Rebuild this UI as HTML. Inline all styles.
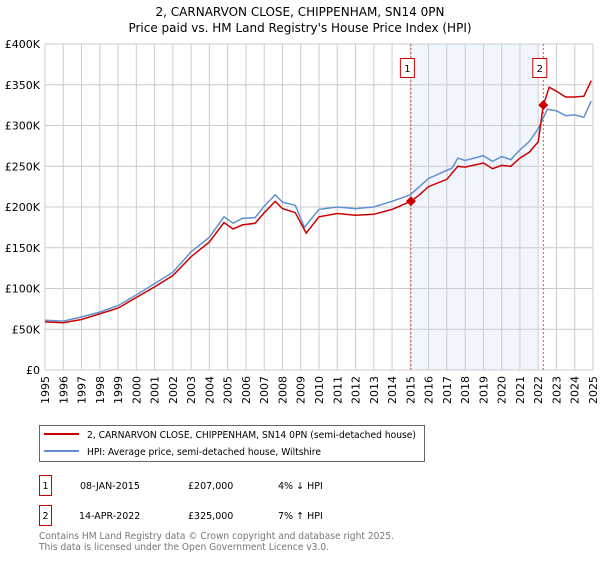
<!DOCTYPE html>
<html><head><meta charset="utf-8"><style>
body{margin:0;background:#fff;font-family:"DejaVu Sans","Liberation Sans",sans-serif;}
svg text{font-family:"DejaVu Sans","Liberation Sans",sans-serif;}
</style></head><body>
<svg id="c" width="600" height="560" xmlns="http://www.w3.org/2000/svg">
<text x="300" y="16" text-anchor="middle" font-size="12" fill="#000">2, CARNARVON CLOSE, CHIPPENHAM, SN14 0PN</text>
<text x="300" y="32" text-anchor="middle" font-size="12" fill="#000">Price paid vs. HM Land Registry's House Price Index (HPI)</text>
<g id="grid"></g><g id="marks"></g><g id="axes"></g>
<g>
<rect x="39.5" y="425.5" width="385" height="36" fill="#fff" stroke="#666"/>
<line x1="44" y1="434" x2="79" y2="434" stroke="#cc0000" stroke-width="2"/>
<text x="87" y="438" font-size="9.3" textLength="329" lengthAdjust="spacingAndGlyphs">2, CARNARVON CLOSE, CHIPPENHAM, SN14 0PN (semi-detached house)</text>
<line x1="44" y1="451" x2="79" y2="451" stroke="#6090d0" stroke-width="2"/>
<text x="87" y="455" font-size="9.3" textLength="234" lengthAdjust="spacingAndGlyphs">HPI: Average price, semi-detached house, Wiltshire</text>
</g>
<g>
<rect x="39.5" y="475.5" width="12" height="20" fill="none" stroke="#cc0000"/>
<text x="45.5" y="489" text-anchor="middle" font-size="9.5">1</text>
<text x="80" y="489" font-size="9.5">08-JAN-2015</text>
<text x="188" y="489" font-size="9.5">£207,000</text>
<text x="278" y="489" font-size="9.5">4% ↓ HPI</text>
<rect x="39.5" y="505.5" width="12" height="20" fill="none" stroke="#cc0000"/>
<text x="45.5" y="519" text-anchor="middle" font-size="9.5">2</text>
<text x="79" y="519" font-size="9.5">14-APR-2022</text>
<text x="188" y="519" font-size="9.5">£325,000</text>
<text x="278" y="519" font-size="9.5">7% ↑ HPI</text>
</g>
<text x="39" y="539" font-size="9.3" fill="#777" textLength="355" lengthAdjust="spacingAndGlyphs">Contains HM Land Registry data © Crown copyright and database right 2025.</text>
<text x="39" y="550" font-size="9.3" fill="#777" textLength="290" lengthAdjust="spacingAndGlyphs">This data is licensed under the Open Government Licence v3.0.</text>
</svg>
<script>
const yTicks=[0,50,100,150,200,250,300,350,400];
const yTickLabels=["£0","£50K","£100K","£150K","£200K","£250K","£300K","£350K","£400K"];
const xYears=[1995,1996,1997,1998,1999,2000,2001,2002,2003,2004,2005,2006,2007,2008,2009,2010,2011,2012,2013,2014,2015,2016,2017,2018,2019,2020,2021,2022,2023,2024,2025];
const hpiT=[1995,1996,1997,1998,1999,2000,2001,2002,2003,2004,2004.8,2005.3,2005.8,2006.5,2007,2007.6,2008,2008.7,2009.2,2010,2011,2012,2013,2014,2015,2015.5,2016,2017,2017.3,2017.6,2018,2019,2019.5,2020,2020.5,2021,2021.5,2022,2022.5,2023,2023.5,2024,2024.5,2024.9];
const hpiV=[61,60,65,71,79,92,106,120,145,163,188,180,186,187,201,215,206,202,175,197,200,198,200,207,215,225,235,245,248,260,257,263,256,262,258,270,280,296,320,318,312,313,310,330];
const ppT=[1995,1996,1997,1998,1999,2000,2001,2002,2003,2004,2004.8,2005.3,2005.8,2006.5,2007,2007.6,2008,2008.7,2009.3,2010,2011,2012,2013,2014,2015.03,2015.5,2016,2017,2017.6,2018,2019,2019.5,2020,2020.5,2021,2021.5,2022.0,2022.28,2022.6,2023,2023.5,2024,2024.5,2024.9];
const ppV=[59,58,62,69,76,89,102,116,139,157,181,173,178,180,193,207,198,193,168,188,192,190,191,197,207,215,225,234,250,249,254,247,251,250,260,267,280,325,347,342,335,335,336,355];
const saleT=[2015.03,2022.28];
const saleV=[207,325];
const saleLabels=["1","2"];
const X0=45,X1=593,Y0=370,Y1=44;
const sx=t=>X0+(t-1995)/30*(X1-X0);
const sy=v=>Y0-v/400*(Y0-Y1);
const NS="http://www.w3.org/2000/svg";
function mk(tag,attrs,parent,txt){const e=document.createElementNS(NS,tag);for(const k in attrs)e.setAttribute(k,attrs[k]);if(txt!==undefined)e.textContent=txt;document.getElementById(parent).appendChild(e);return e;}
let sh=mk('rect',{x:sx(saleT[0]),y:Y1,width:sx(2022.0)-sx(saleT[0]),height:Y0-Y1,fill:'#eef3fc',opacity:0.8},'grid');


xYears.forEach(y=>{const l=mk('line',{x1:sx(y),x2:sx(y),y1:Y1,y2:Y0,stroke:'#ccc','stroke-width':1},'grid');


const t=mk('text',{x:0,y:0,'font-size':11,'text-anchor':'end',transform:`translate(${sx(y)+4},${Y0+6}) rotate(-90)`},'axes',String(y));

});
yTicks.forEach((v,i)=>{const l=mk('line',{x1:X0,x2:X1,y1:sy(v),y2:sy(v),stroke:'#ccc','stroke-width':1},'grid');


const t=mk('text',{x:X0-5,y:sy(v)+4,'font-size':11,'text-anchor':'end'},'axes',yTickLabels[i]);

});
saleT.forEach((t,i)=>{const l=mk('line',{x1:sx(t),x2:sx(t),y1:Y1,y2:Y0,stroke:'#e05050','stroke-width':1,'stroke-dasharray':'2,2'},'marks');


const r=mk('rect',{x:sx(t)-10.5,y:58.5,width:14,height:19,fill:'#fff',stroke:'#cc0000'},'marks');


const tx=mk('text',{x:sx(t)-3.5,y:72,'font-size':10,'text-anchor':'middle'},'marks',saleLabels[i]);

});
const path=(T,V)=>T.map((t,i)=>(i?'L':'M')+sx(t).toFixed(1)+','+sy(V[i]).toFixed(1)).join('');
const hp=mk('path',{d:path(hpiT,hpiV),fill:'none',stroke:'#6090d0','stroke-width':1.5},'marks');


const pp=mk('path',{d:path(ppT,ppV),fill:'none',stroke:'#cc0000','stroke-width':1.5},'marks');


saleT.forEach((t,i)=>{const c=mk('path',{d:`M${sx(t)},${sy(saleV[i])-5}l5,5l-5,5l-5,-5z`,fill:'#cc0000'},'marks');

});
</script>
</body></html>
